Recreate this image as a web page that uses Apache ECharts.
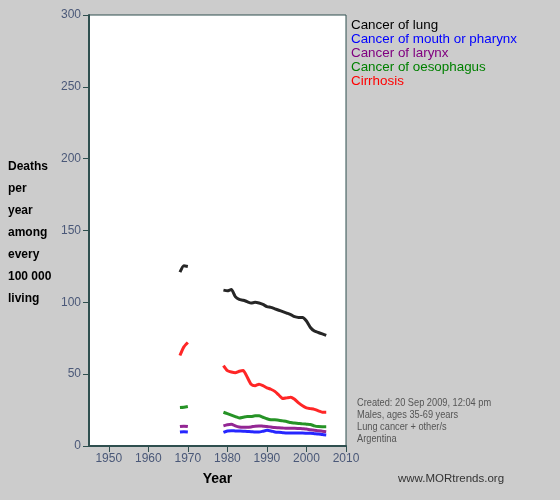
<!DOCTYPE html>
<html><head><meta charset="utf-8">
<script src="https://cdn.jsdelivr.net/npm/echarts@6/dist/echarts.min.js"></script>
<style>html,body{margin:0;padding:0;background:#cccccc}#c{width:560px;height:500px}</style>
</head><body><div id="c"></div>
<script>
var seriesNames = ['Cancer of lung','Cancer of mouth or pharynx','Cancer of larynx','Cancer of oesophagus','Cirrhosis'];
var seriesColors = ['#000000','#0000ff','#800080','#008000','#ff0000'];
var yearsA = [1968,1969,1970];
var yearsB = [1979,1980,1981,1982,1983,1984,1985,1986,1987,1988,1989,1990,1991,1992,1993,1994,1995,1996,1997,1998,1999,2000,2001,2002,2003,2004,2005];
var lungA = [121,125.5,125];
var lungB = [108.5,108,109,104,102,101.5,100.5,99.5,100,99.5,98.5,97,96.5,95.5,94.5,93.5,92.5,91.5,90,89.5,89.5,87,82.5,80,79,78,77];
var mouthA = [9.8,10,9.8];
var mouthB = [9.5,10.5,10.7,10.5,10.4,10.3,10.1,10,9.8,9.8,10.3,10.9,10.5,9.8,9.5,9.3,9.1,9,9,9,9,8.9,8.8,8.6,8.4,8,7.7];
var larynxA = [13.5,13.8,13.5];
var larynxB = [14,14.8,15.2,14,13.2,13,13,13.3,13.8,14,13.8,13.6,13.2,12.8,12.7,12.5,12.3,12.3,12.4,12.2,12,11.8,11.3,11,10.6,10.3,10];
var oesoA = [26.8,27,27.5];
var oesoB = [23.5,22.5,21.5,20.5,19.5,20,20.5,20.5,21,21,20,19,18.3,18.2,18,17.5,17,16.3,16,15.7,15.4,15.2,15,14,13.5,13.4,13.4];
var cirrA = [63,69,72];
var cirrB = [56,52.5,51.5,51,52,52.5,48,43,42,43,42,40.5,39.5,38,35.5,33,33.5,34,32.5,30,28,26.5,26,25.5,24.5,23.5,23.5];
var xTicks = [1950,1960,1970,1980,1990,2000,2010];
var yTicks = [0,50,100,150,200,250,300];
var yLabelLines = ['Deaths','per','year','among','every','100 000','living'];
var noteLines = ['Created: 20 Sep 2009, 12:04 pm','Males, ages 35-69 years','Lung cancer + other/s','Argentina'];
var siteText = 'www.MORtrends.org';

function build(a, b) {
  var d = [];
  for (var i = 0; i < yearsA.length; i++) d.push([yearsA[i], a[i]]);
  d.push([1974, null]);
  for (var j = 0; j < yearsB.length; j++) d.push([yearsB[j], b[j]]);
  return d;
}
var allData = [build(lungA,lungB), build(mouthA,mouthB), build(larynxA,larynxB), build(oesoA,oesoB), build(cirrA,cirrB)];
var drawOrder = [4,3,2,1,0];

var chart = echarts.init(document.getElementById('c'), null, {renderer:'canvas'});
var axisCol = '#2f4f4f';
var labCol = '#4a5878';
var FONT = 'Liberation Sans, Arial, sans-serif';
var series = drawOrder.map(function(k){
  return {
    name: seriesNames[k], type: 'line', data: allData[k], showSymbol: false, symbol: 'none',
    connectNulls: false, smooth: 0.2, z: 3 + (4-k),
    lineStyle: {color: seriesColors[k], width: 3, opacity: 0.85},
    itemStyle: {color: seriesColors[k]}, animation: false
  };
});
chart.setOption({
  backgroundColor: '#cccccc',
  animation: false,
  grid: {left: 89, top: 15, right: 214, bottom: 54, show: true, backgroundColor: '#ffffff', borderColor: axisCol, borderWidth: 1},
  legend: {
    orient: 'vertical', left: 341, top: 13, itemGap: 0, itemWidth: 0, itemHeight: 14, icon: 'none',
    selectedMode: false,
    data: seriesNames.map(function(n, i){ return {name: n, textStyle: {color: seriesColors[i]}}; }),
    textStyle: {fontFamily: FONT, fontSize: 13.4, lineHeight: 14, padding: 0}
  },
  xAxis: {
    type: 'value', min: 1945, max: 2010,
    axisLine: {show: true, lineStyle: {color: axisCol, width: 2}},
    axisTick: {show: true, length: 6, lineStyle: {color: axisCol, width: 1}, customValues: xTicks},
    axisLabel: {color: labCol, fontSize: 12, fontFamily: FONT, margin: 7, customValues: xTicks,
      formatter: function(v){ return String(v); }},
    splitLine: {show: false},
    name: 'Year', nameLocation: 'middle', nameGap: 26,
    nameTextStyle: {fontWeight: 'bold', fontSize: 14, color: '#000', fontFamily: FONT}
  },
  yAxis: {
    type: 'value', min: 0, max: 300, interval: 50,
    axisLine: {show: true, lineStyle: {color: axisCol, width: 2}},
    axisTick: {show: true, length: 6, lineStyle: {color: axisCol, width: 1}},
    axisLabel: {color: labCol, fontSize: 12, fontFamily: FONT, margin: 8},
    splitLine: {show: false}
  },
  graphic: [
    {type: 'text', left: 8, top: 156, style: {text: yLabelLines.join('\n'), fontWeight: 'bold', fontSize: 12, lineHeight: 22, fill: '#000', fontFamily: FONT}},
    {type: 'text', x: 357, y: 397, scaleX: 0.84, style: {text: noteLines.join('\n'), fontSize: 11, lineHeight: 12, fill: '#555555', fontFamily: FONT}},
    {type: 'text', left: 398, top: 473, style: {text: siteText, fontSize: 11.5, fill: '#333333', fontFamily: FONT}}
  ],
  series: series
});
</script></body></html>
